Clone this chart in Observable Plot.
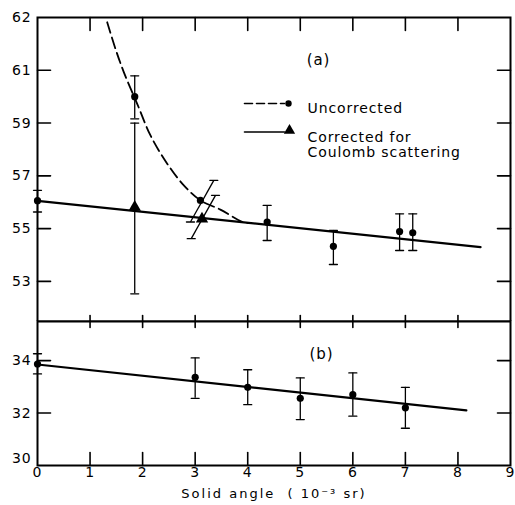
<!DOCTYPE html>
<html><head><meta charset="utf-8">
<script src="https://cdn.jsdelivr.net/npm/d3@7"></script>
<script src="https://cdn.jsdelivr.net/npm/@observablehq/plot@0.6"></script>
<style>
body{margin:0;background:#fff;width:515px;height:505px;position:relative;overflow:hidden}
#top,#bot{position:absolute;left:0}
#top{top:0}
#bot{top:321px}
svg{overflow:visible}
</style></head><body><div id="top"></div><div id="bot"></div>
<script>
// ---- axis ticks / labels ----
const xInnerTicks = [1, 2, 3, 4, 5, 6, 7, 8];
const xLabels = [0, 1, 2, 3, 4, 5, 6, 7, 8, 9];
const topTickValues = [63, 61, 59, 57, 55, 53];
const topTickLabels = ["62", "61", "59", "57", "55", "53"];
const botTickValues = [34, 32];
const botCornerTick = [30];

// ---- panel (a): uncorrected (circles) with vertical error bars ----
const uncX  = [0,     1.85,  4.37,  5.63,  6.89,  7.14];
const uncY  = [56.06, 60.00, 55.25, 54.33, 54.89, 54.84];
const uncLo = [55.63, 59.16, 54.55, 53.64, 54.17, 54.17];
const uncHi = [56.45, 60.79, 55.88, 54.93, 55.56, 55.56];
// uncorrected point with slanted error bar
const uncSlantX = [3.10], uncSlantY = [56.07];
const uncSlantX1 = [2.91], uncSlantY1 = [55.25], uncSlantX2 = [3.355], uncSlantY2 = [56.83];

// ---- panel (a): corrected for Coulomb scattering (triangles) ----
const corX  = [1.85],  corY = [55.81], corLo = [52.53], corHi = [59.00];
const corSlantX = [3.13], corSlantY = [55.37];
const corSlantX1 = [2.925], corSlantY1 = [54.62], corSlantX2 = [3.387], corSlantY2 = [56.26];

// dashed curve (uncorrected trend)
const curveX = [1.326, 1.484, 1.642, 1.897, 2.150, 2.468, 2.784, 3.10, 3.48, 3.895, 4.05];
const curveY = [62.82, 61.81, 60.93, 59.73, 58.53, 57.46, 56.64, 56.07, 55.72, 55.26, 55.21];
// straight fit line (a)
const fitAX = [0, 8.43], fitAY = [56.05, 54.30];

// ---- panel (b) ----
const bX  = [0,     3,     4,     5,     6,     7];
const bY  = [33.87, 33.36, 32.98, 32.56, 32.70, 32.20];
const bLo = [33.49, 32.56, 32.32, 31.75, 31.88, 31.42];
const bHi = [34.26, 34.10, 33.65, 33.34, 33.53, 32.98];
const fitBX = [0, 8.16], fitBY = [33.85, 32.10];

(function () {
  // ---- build tables ----
  const unc = uncX.map((x, i) => ({x, y: uncY[i], lo: uncLo[i], hi: uncHi[i]}));
  const cor = corX.map((x, i) => ({x, y: corY[i], lo: corLo[i], hi: corHi[i]}));
  const slants = [
    ...uncSlantX1.map((_, i) => ({x1: uncSlantX1[i], y1: uncSlantY1[i], x2: uncSlantX2[i], y2: uncSlantY2[i]})),
    ...corSlantX1.map((_, i) => ({x1: corSlantX1[i], y1: corSlantY1[i], x2: corSlantX2[i], y2: corSlantY2[i]}))
  ];
  const capsA = [
    ...unc.flatMap(d => [{x: d.x, y: d.lo}, {x: d.x, y: d.hi}]),
    ...cor.flatMap(d => [{x: d.x, y: d.lo}, {x: d.x, y: d.hi}]),
    ...slants.flatMap(d => [{x: d.x1, y: d.y1}, {x: d.x2, y: d.y2}])
  ];
  const circlesA = [...unc, ...uncSlantX.map((x, i) => ({x, y: uncSlantY[i]}))];
  const trianglesA = [...cor, ...corSlantX.map((x, i) => ({x, y: corSlantY[i]}))];
  const curvePts = curveX.map((x, i) => ({x, y: curveY[i]}));
  const fitA = fitAX.map((x, i) => ({x, y: fitAY[i]}));
  const ptsB = bX.map((x, i) => ({x, y: bY[i], lo: bLo[i], hi: bHi[i]}));
  const capsB = ptsB.flatMap(d => [{x: d.x, y: d.lo}, {x: d.x, y: d.hi}]);
  const fitB = fitBX.map((x, i) => ({x, y: fitBY[i]}));

  const capShape = {draw(ctx, l) { ctx.moveTo(0, 0); ctx.lineTo(0, -l); }};
  const topLabelMap = new Map(topTickValues.map((v, i) => [v, topTickLabels[i]]));
  const W = 515, ML = 37, MR = 5;
  const xDom = [0, 9];

  // inward edge ticks: pixel-length vectors starting on the frame edges
  const rot = {top: 180, bottom: 0, left: 90, right: -90};
  const edgeTicks = (vals, side, len, yDom) => {
    const pts = vals.map(v =>
      side === "top" ? {x: v, y: yDom[1]} :
      side === "bottom" ? {x: v, y: yDom[0]} :
      side === "left" ? {x: xDom[0], y: v} : {x: xDom[1], y: v});
    return Plot.vector(pts, {x: "x", y: "y", length: len, rotate: rot[side], anchor: "start",
      shape: capShape, stroke: "black", strokeWidth: 1.6});
  };

  const common = {
    width: W, marginLeft: ML, marginRight: MR,
    style: {fontFamily: "DejaVu Sans", fontSize: "14px", background: "white", color: "black", overflow: "visible"}
  };

  const topH = 321, topMT = 17, topMB = 0, topDomain = [51.48, 63];
  const botH = 184, botMT = 0, botMB = 40, botDomain = [30, 35.49];

  const topPlot = Plot.plot({
    ...common,
    height: topH, marginTop: topMT, marginBottom: topMB,
    x: {domain: xDom, axis: null},
    y: {domain: topDomain},
    marks: [
      Plot.frame({stroke: "black", strokeWidth: 2}),
      Plot.axisY(topTickValues, {anchor: "left", tickSize: 0, tickPadding: 6, fontSize: 14, tickFormat: d => topLabelMap.get(d), label: null}),
      Plot.line(fitA, {x: "x", y: "y", stroke: "black", strokeWidth: 2.2}),
      Plot.line(curvePts, {x: "x", y: "y", stroke: "black", strokeWidth: 1.8, strokeDasharray: "11,5", curve: "catmull-rom"}),
      Plot.ruleX(unc, {x: "x", y1: "lo", y2: "hi", stroke: "black", strokeWidth: 1.3}),
      Plot.ruleX(cor, {x: "x", y1: "lo", y2: "hi", stroke: "black", strokeWidth: 1.3}),
      Plot.link(slants, {x1: "x1", y1: "y1", x2: "x2", y2: "y2", stroke: "black", strokeWidth: 1.3}),
      Plot.vector(capsA, {x: "x", y: "y", length: 8, rotate: 90, anchor: "middle", shape: capShape, stroke: "black", strokeWidth: 1.3}),
      Plot.dot(circlesA, {x: "x", y: "y", r: 3.6, fill: "black", stroke: "none"}),
      Plot.dot(trianglesA, {x: "x", y: "y", r: 4.6, symbol: "triangle", fill: "black", stroke: "none"}),
      // panel label and legend
      Plot.text(["(a)"], {frameAnchor: "top-left", dx: 281, dy: 37, fontSize: 15, textAnchor: "middle"}),
      Plot.vector([0], {frameAnchor: "top-left", dx: 207, dy: 86, length: 40, rotate: 90, anchor: "start", shape: capShape, stroke: "black", strokeWidth: 1.6, strokeDasharray: "8,4"}),
      Plot.dot([0], {frameAnchor: "top-left", dx: 251, dy: 86, r: 3.2, fill: "black", stroke: "none"}),
      Plot.vector([0], {frameAnchor: "top-left", dx: 207, dy: 114.5, length: 40, rotate: 90, anchor: "start", shape: capShape, stroke: "black", strokeWidth: 1.6}),
      Plot.dot([0], {frameAnchor: "top-left", dx: 252, dy: 113, r: 4.2, symbol: "triangle", fill: "black", stroke: "none"}),
      Plot.text(["Uncorrected"], {frameAnchor: "top-left", dx: 270, dy: 85.5, textAnchor: "start", fontSize: 14}),
      Plot.text(["Corrected for"], {frameAnchor: "top-left", dx: 270, dy: 114.5, textAnchor: "start", fontSize: 14}),
      Plot.text(["Coulomb scattering"], {frameAnchor: "top-left", dx: 270, dy: 130, textAnchor: "start", fontSize: 14}),
      // inward ticks
      edgeTicks(xInnerTicks, "top", 13, topDomain),
      edgeTicks(xInnerTicks, "bottom", 6, topDomain),
      edgeTicks(topTickValues.slice(1), "left", 13, topDomain),
      edgeTicks(topTickValues.slice(1), "right", 13, topDomain)
    ]
  });

  const botPlot = Plot.plot({
    ...common,
    height: botH, marginTop: botMT, marginBottom: botMB,
    x: {domain: xDom},
    y: {domain: botDomain},
    marks: [
      Plot.frame({stroke: "black", strokeWidth: 2}),
      Plot.axisX(xLabels, {anchor: "bottom", tickSize: 0, tickPadding: 2, fontSize: 14, label: null}),
      Plot.axisY(botTickValues, {anchor: "left", tickSize: 0, tickPadding: 6, fontSize: 14, label: null}),
      Plot.axisY(botCornerTick, {anchor: "left", tickSize: 0, tickPadding: 6, fontSize: 14, dy: -7, label: null}),
      Plot.line(fitB, {x: "x", y: "y", stroke: "black", strokeWidth: 2.2}),
      Plot.ruleX(ptsB, {x: "x", y1: "lo", y2: "hi", stroke: "black", strokeWidth: 1.3}),
      Plot.vector(capsB, {x: "x", y: "y", length: 8, rotate: 90, anchor: "middle", shape: capShape, stroke: "black", strokeWidth: 1.3}),
      Plot.dot(ptsB, {x: "x", y: "y", r: 3.6, fill: "black", stroke: "none"}),
      Plot.text(["(b)"], {frameAnchor: "top-left", dx: 284, dy: 26.5, fontSize: 15, textAnchor: "middle"}),
      Plot.text(["Solid angle  ( 10⁻³ sr)"], {frameAnchor: "bottom", dx: 0, dy: 32, fontSize: 13, textAnchor: "middle"}),
      // inward ticks
      edgeTicks(xInnerTicks, "top", 6, botDomain),
      edgeTicks(xInnerTicks, "bottom", 13, botDomain),
      edgeTicks(botTickValues, "left", 13, botDomain),
      edgeTicks(botTickValues, "right", 13, botDomain)
    ]
  });

  document.getElementById("top").appendChild(topPlot);
  document.getElementById("bot").appendChild(botPlot);

  // letter spacing for the lettering-guide style text
  d3.selectAll("svg text").style("letter-spacing", "0.9px");
  d3.selectAll("svg text").filter(function() { return this.textContent.startsWith("Solid"); }).style("letter-spacing", "2px");
})();
</script></body></html>
